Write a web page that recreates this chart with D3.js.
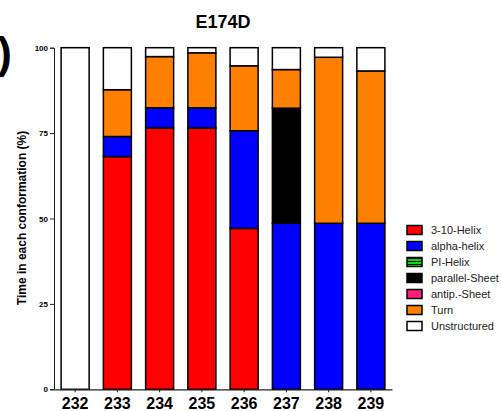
<!DOCTYPE html>
<html>
<head>
<meta charset="utf-8">
<script src="https://cdn.jsdelivr.net/npm/d3@7"></script>
<style>
  html, body { margin: 0; padding: 0; background: #fff; }
  svg { display: block; font-family: Arial, "Liberation Sans", sans-serif; }
</style>
</head>
<body>
<svg id="chart" width="502" height="411"></svg>
<script>
// Residues along the x axis
const residues = ["232", "233", "234", "235", "236", "237", "238", "239"];

// Secondary-structure classes, bottom to top of each stack
const classes = ["3-10-Helix", "alpha-helix", "PI-Helix", "parallel-Sheet", "antip.-Sheet", "Turn", "Unstructured"];
const classColors = ["#ff0000", "#0000ff", "#00e000", "#000000", "#ff1f7a", "#ff8000", "#ffffff"];

// Percentage of time in each conformation, per residue
const helix310     = [0, 68.1, 76.5, 76.5, 47.1, 0, 0, 0];
const alphaHelix   = [0, 5.9, 5.9, 5.9, 28.6, 48.6, 48.6, 48.6];
const piHelix      = [0, 0, 0, 0, 0, 0, 0, 0];
const parallelSh   = [0, 0, 0, 0, 0, 33.7, 0, 0];
const antipSheet   = [0, 0, 0, 0, 0, 0, 0, 0];
const turn         = [0, 13.7, 15.0, 16.1, 19.0, 11.3, 48.6, 44.6];
const unstructured = [100, 12.3, 2.6, 1.5, 5.3, 6.4, 2.8, 6.8];

const yTicks = [0, 25, 50, 75, 100];

const seriesValues = [helix310, alphaHelix, piHelix, parallelSh, antipSheet, turn, unstructured];

const svg = d3.select("#chart");

// Stack table built from the series arrays
const table = residues.map((r, i) => {
  const row = { residue: r };
  classes.forEach((c, k) => { row[c] = seriesValues[k][i]; });
  return row;
});
const stacked = d3.stack().keys(classes)(table);

const x = d3.scaleBand().domain(residues).range([54, 392]).paddingInner(0.337).paddingOuter(0.1685);
const y = d3.scaleLinear().domain([0, 100]).range([389.3, 47.7]);

// Striped fill used for the PI-Helix class
const defs = svg.append("defs");
const pat = defs.append("pattern").attr("id", "piStripe").attr("patternUnits", "userSpaceOnUse")
  .attr("width", 4).attr("height", 3);
pat.append("rect").attr("width", 4).attr("height", 3).attr("fill", "#00e000");
pat.append("rect").attr("y", 2).attr("width", 4).attr("height", 1).attr("fill", "#000");

function fillFor(k) { return classes[k] === "PI-Helix" ? "url(#piStripe)" : classColors[k]; }

// Bars
stacked.forEach((layer, k) => {
  svg.append("g").selectAll("rect")
    .data(layer.filter(d => d[1] - d[0] > 0))
    .join("rect")
    .attr("x", d => x(d.data.residue))
    .attr("width", x.bandwidth())
    .attr("y", d => y(d[1]))
    .attr("height", d => y(d[0]) - y(d[1]))
    .attr("fill", fillFor(k))
    .attr("stroke", "#000")
    .attr("stroke-width", 1.5);
});

// Y axis
const yAxis = svg.append("g").attr("transform", "translate(54,0)")
  .call(d3.axisLeft(y).tickValues(yTicks).tickSize(4).tickPadding(2));
yAxis.select(".domain").attr("stroke", "#222").attr("stroke-width", 1);
yAxis.selectAll(".tick line").attr("stroke", "#222");
yAxis.selectAll("text").attr("font-size", 8).attr("font-weight", "bold").attr("fill", "#000")
  .attr("font-family", "Arial, 'Liberation Sans', sans-serif");

// X axis
const xAxis = svg.append("g").attr("transform", "translate(0,389.3)")
  .call(d3.axisBottom(x).tickSize(3).tickSizeOuter(0).tickPadding(5));
xAxis.select(".domain").attr("stroke", "#222").attr("stroke-width", 1.2);
xAxis.selectAll(".tick line").attr("stroke", "#222");
xAxis.selectAll("text").attr("font-size", 16).attr("font-weight", "bold").attr("fill", "#000")
  .attr("font-family", "Arial, 'Liberation Sans', sans-serif");

// Axis title
svg.append("text")
  .attr("transform", "translate(26,218) rotate(-90)")
  .attr("text-anchor", "middle")
  .attr("font-size", 12).attr("font-weight", "bold")
  .text("Time in each conformation (%)");

// Chart title
svg.append("text")
  .attr("x", 223).attr("y", 28)
  .attr("text-anchor", "middle")
  .attr("font-size", 18).attr("font-weight", "bold")
  .text("E174D");

// Panel letter
svg.append("text")
  .attr("x", 12).attr("y", 68)
  .attr("text-anchor", "end")
  .attr("font-size", 44).attr("font-weight", "bold")
  .text("D)");

// Legend
const legend = svg.append("g").attr("transform", "translate(407,230)");
classes.forEach((c, k) => {
  const g = legend.append("g").attr("transform", `translate(0,${k * 16})`);
  g.append("rect").attr("x", 0).attr("y", -4.5).attr("width", 15).attr("height", 9)
    .attr("fill", fillFor(k)).attr("stroke", "#000").attr("stroke-width", 1.5);
  g.append("text").attr("x", 24).attr("y", 4).attr("font-size", 11).attr("fill", "#222").text(c);
});
</script>
</body>
</html>
